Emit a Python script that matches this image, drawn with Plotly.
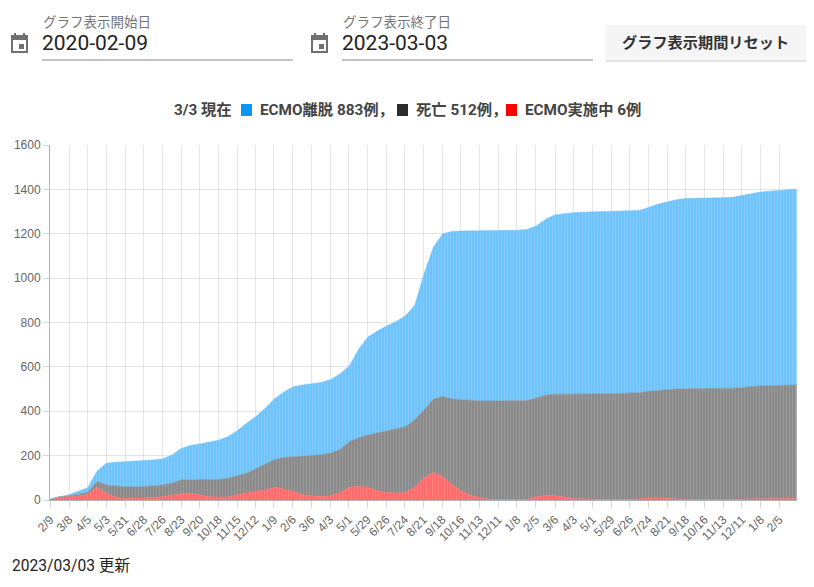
import plotly.graph_objects as go

dates = [
    "2020-02-09", "2020-02-23", "2020-03-08", "2020-03-22", "2020-04-05", "2020-04-19",
    "2020-05-03", "2020-05-17", "2020-05-31", "2020-06-14", "2020-06-28", "2020-07-12",
    "2020-07-26", "2020-08-09", "2020-08-23", "2020-09-06", "2020-09-20", "2020-10-04",
    "2020-10-18", "2020-11-01", "2020-11-15", "2020-11-29", "2020-12-13", "2020-12-27",
    "2021-01-10", "2021-01-24", "2021-02-07", "2021-02-21", "2021-03-07", "2021-03-21",
    "2021-04-04", "2021-04-18", "2021-05-02", "2021-05-16", "2021-05-30", "2021-06-13",
    "2021-06-27", "2021-07-11", "2021-07-25", "2021-08-08", "2021-08-22", "2021-09-05",
    "2021-09-19", "2021-10-03", "2021-10-17", "2021-10-31", "2021-11-14", "2021-11-28",
    "2021-12-12", "2021-12-26", "2022-01-09", "2022-01-23", "2022-02-06", "2022-02-20",
    "2022-03-06", "2022-03-20", "2022-04-03", "2022-04-17", "2022-05-01", "2022-05-15",
    "2022-05-29", "2022-06-12", "2022-06-26", "2022-07-10", "2022-07-24", "2022-08-07",
    "2022-08-21", "2022-09-04", "2022-09-18", "2022-10-02", "2022-10-16", "2022-10-30",
    "2022-11-13", "2022-11-27", "2022-12-11", "2022-12-25", "2023-01-08", "2023-01-22",
    "2023-02-05", "2023-02-19", "2023-03-03",
]
ecmo_active = [
    3, 15, 16, 18, 26, 57, 30, 12, 8, 8, 8, 10, 15, 22, 28, 30, 22, 15, 13, 14,
    24, 33, 40, 45, 58, 48, 38, 24, 19, 15, 19, 33, 57, 62, 58, 42, 34, 31, 34, 57,
    100, 125, 105, 70, 40, 20, 11, 3, 1, 1, 1, 3, 14, 20, 19, 13, 8, 5, 3, 2,
    2, 2, 3, 5, 10, 10, 8, 5, 3, 2, 2, 2, 3, 3, 5, 6, 7, 7, 7, 7, 6,
]
deaths = [
    0, 0, 3, 7, 9, 26, 38, 52, 51, 51, 52, 53, 53, 53, 62, 62, 70, 77, 79, 84,
    84, 88, 101, 117, 124, 143, 157, 173, 181, 189, 193, 195, 206, 218, 235, 260, 275, 287, 296, 306,
    306, 330, 361, 385, 411, 428, 435, 443, 445, 445, 445, 445, 446, 452, 458, 465, 470, 473, 475, 476,
    477, 477, 477, 478, 480, 484, 489, 495, 498, 499, 499, 500, 500, 501, 501, 506, 507, 508, 509, 510, 512,
]
weaned = [
    0, 0, 5, 15, 20, 47, 98, 106, 113, 116, 118, 117, 117, 127, 142, 154, 160, 168, 177, 187,
    204, 225, 235, 252, 274, 296, 315, 321, 324, 326, 331, 340, 342, 400, 442, 460, 475, 486, 500, 515,
    614, 685, 734, 755, 761, 764, 767, 768, 769, 769, 770, 771, 775, 793, 808, 813, 817, 819, 820, 821,
    821, 821, 821, 822, 828, 839, 846, 853, 858, 858, 859, 859, 859, 860, 866, 870, 874, 877, 880, 882, 883,
]
tick_dates = [
    "2020-02-09", "2020-03-08", "2020-04-05", "2020-05-03", "2020-05-31", "2020-06-28",
    "2020-07-26", "2020-08-23", "2020-09-20", "2020-10-18", "2020-11-15", "2020-12-12",
    "2021-01-09", "2021-02-06", "2021-03-06", "2021-04-03", "2021-05-01", "2021-05-29",
    "2021-06-26", "2021-07-24", "2021-08-21", "2021-09-18", "2021-10-16", "2021-11-13",
    "2021-12-11", "2022-01-08", "2022-02-05", "2022-03-06", "2022-04-03", "2022-05-01",
    "2022-05-29", "2022-06-26", "2022-07-24", "2022-08-21", "2022-09-18", "2022-10-16",
    "2022-11-13", "2022-12-11", "2023-01-08", "2023-02-05",
]
tick_labels = [
    "2/9", "3/8", "4/5", "5/3", "5/31", "6/28", "7/26", "8/23", "9/20", "10/18", "11/15", "12/12",
    "1/9", "2/6", "3/6", "4/3", "5/1", "5/29", "6/26", "7/24", "8/21", "9/18", "10/16", "11/13",
    "12/11", "1/8", "2/5", "3/6", "4/3", "5/1", "5/29", "6/26", "7/24", "8/21", "9/18", "10/16",
    "11/13", "12/11", "1/8", "2/5",
]
series_names = ["ECMO実施中", "死亡", "ECMO離脱"]

# ---- figure ----
W, H = 814, 587
L, R, T, B = 50, 797, 145, 500

def px(x):
    return (x - L) / (R - L)

def py(y):
    return (B - y) / (B - T)

fig = go.Figure()
fills = ["#ff6a6a", "#8a8a8a", "#6ec3fb"]
for name, vals, col in zip(series_names, [ecmo_active, deaths, weaned], fills):
    fig.add_trace(go.Scatter(
        x=dates, y=vals, name=name, stackgroup="one", mode="lines",
        line=dict(width=0.6, color=col), fillcolor=col,
        fillpattern=dict(shape="|", fgcolor="white", fgopacity=0.18, size=3, solidity=0.25),
        hoverinfo="x+y+name",
    ))

tick_font = dict(family="Liberation Sans, Arial, sans-serif", size=12, color="#666666")
fig.update_layout(
    width=W, height=H,
    margin=dict(l=L, r=W - R, t=T, b=H - B, pad=0),
    paper_bgcolor="white", plot_bgcolor="white",
    showlegend=False,
    xaxis=dict(
        type="date", range=["2020-02-08 12:00", "2023-03-03 12:00"],
        tickmode="array", tickvals=tick_dates, ticktext=tick_labels, tickangle=-45,
        tickfont=tick_font, showgrid=True, gridcolor="rgba(0,0,0,0.1)", gridwidth=1,
        ticks="outside", ticklen=7, tickcolor="rgba(0,0,0,0.15)",
        showline=True, linecolor="rgba(0,0,0,0.3)", linewidth=1, zeroline=False,
    ),
    yaxis=dict(
        range=[0, 1600], dtick=200, tickfont=tick_font,
        showgrid=True, gridcolor="rgba(0,0,0,0.1)", gridwidth=1,
        ticks="outside", ticklen=6, tickcolor="rgba(0,0,0,0.15)",
        showline=True, linecolor="rgba(0,0,0,0.3)", linewidth=1, zeroline=False,
    ),
    font=dict(family="Roboto, Noto Sans CJK JP, sans-serif"),
)

ui_font = "Roboto, Noto Sans CJK JP, sans-serif"
ann = []
shapes = []

def text(x, y, s, size, color, anchor="left", family=ui_font):
    ann.append(dict(xref="paper", yref="paper", x=px(x), y=py(y), text=s, showarrow=False,
                    xanchor=anchor, yanchor="middle", font=dict(family=family, size=size, color=color)))

def rect(x0, y0, x1, y1, fill):
    shapes.append(dict(type="rect", xref="paper", yref="paper", x0=px(x0), x1=px(x1), y0=py(y1), y1=py(y0),
                       fillcolor=fill, line=dict(width=0, color=fill), layer="above"))

def hline(x0, x1, y, color):
    shapes.append(dict(type="line", xref="paper", yref="paper", x0=px(x0), x1=px(x1), y0=py(y), y1=py(y),
                       line=dict(color=color, width=1), layer="above"))

def calendar(x, y):
    # x,y = top-left of the icon
    rect(x, y + 2, x + 17, y + 20, "#707070")
    rect(x + 2, y + 7, x + 15, y + 18, "white")
    rect(x + 8, y + 11, x + 13, y + 16, "#707070")
    rect(x + 3, y, x + 5, y + 3, "#707070")
    rect(x + 12, y, x + 14, y + 3, "#707070")

# date inputs
text(41, 22, "グラフ表示開始日", 13.5, "#757575")
text(40, 43, "2020-02-09", 21, "#222222")
hline(42, 293, 60, "#8a8a8a")
calendar(11, 33)

text(341, 22, "グラフ表示終了日", 13.5, "#757575")
text(340, 43, "2023-03-03", 21, "#222222")
hline(342, 593, 60, "#8a8a8a")
calendar(311, 33)

# reset button with shadow
rect(606, 27, 806, 62, "rgba(0,0,0,0.10)")
rect(605, 25, 806, 60, "#f5f5f5")
text(705.5, 43, "<b>グラフ表示期間リセット</b>", 15.2, "#333333", anchor="center")

# title line with coloured squares
text(172, 110, "<b>3/3 現在</b>", 15.3, "#444444")
rect(241, 104, 252, 116, "#0a96f5")
text(258, 110, "<b>ECMO離脱 883例，</b>", 15.3, "#444444")
rect(397, 104, 408, 116, "#2c2c2c")
text(414, 110, "<b>死亡 512例，</b>", 15.3, "#444444")
rect(506, 104, 517, 116, "#ff0000")
text(523, 110, "<b>ECMO実施中 6例</b>", 15.3, "#444444")

# footer
text(10, 566, "2023/03/03 更新", 15.6, "#222222")

fig.update_layout(annotations=ann, shapes=shapes)
fig.write_html("out.html", config={"displayModeBar": False},
               post_script="document.body.style.margin='0';")
